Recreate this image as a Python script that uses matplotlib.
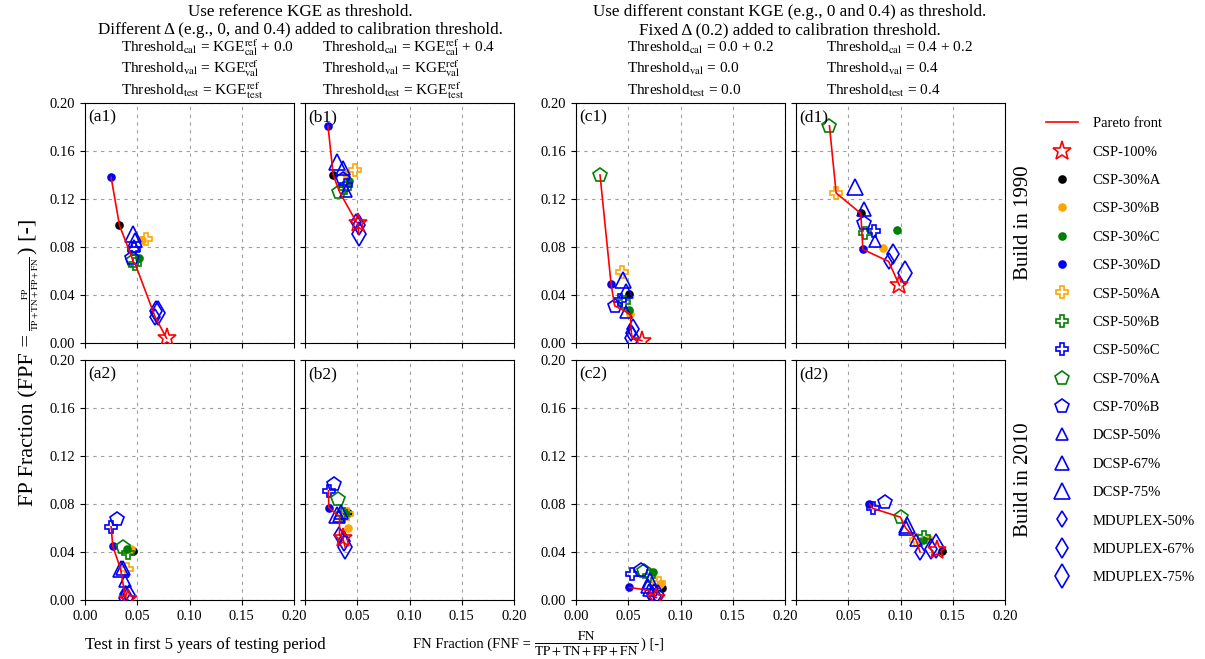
import numpy as np
import matplotlib
matplotlib.use("Agg")
import matplotlib.pyplot as plt

plt.rcParams['font.family'] = ['Liberation Serif', 'DejaVu Serif']
plt.rcParams['mathtext.fontset'] = 'stix'

# method order used by every panel array below
methods = ['CSP-100%', 'CSP-30%A', 'CSP-30%B', 'CSP-30%C', 'CSP-30%D',
           'CSP-50%A', 'CSP-50%B', 'CSP-50%C', 'CSP-70%A', 'CSP-70%B',
           'DCSP-50%', 'DCSP-67%', 'DCSP-75%',
           'MDUPLEX-50%', 'MDUPLEX-67%', 'MDUPLEX-75%']

# FN fraction (x) and FP fraction (y) per panel
a1_fnf = [0.078, 0.033, 0.055, 0.052, 0.025, 0.058, 0.048, 0.047, 0.046, 0.045, 0.047, 0.048, 0.046, 0.067, 0.068, 0.070]
a1_fpf = [0.004, 0.098, 0.086, 0.071, 0.138, 0.087, 0.066, 0.078, 0.068, 0.071, 0.081, 0.086, 0.091, 0.022, 0.027, 0.025]
b1_fnf = [0.0505, 0.027, 0.039, 0.0425, 0.022, 0.048, 0.038, 0.039, 0.033, 0.036, 0.039, 0.036, 0.031, 0.049, 0.052, 0.0515]
b1_fpf = [0.100, 0.140, 0.141, 0.135, 0.181, 0.144, 0.129, 0.132, 0.126, 0.137, 0.127, 0.146, 0.151, 0.101, 0.098, 0.091]
c1_fnf = [0.063, 0.0505, 0.052, 0.051, 0.0336, 0.044, 0.046, 0.042, 0.023, 0.037, 0.048, 0.048, 0.0447, 0.053, 0.055, 0.054]
c1_fpf = [0.002, 0.041, 0.024, 0.0275, 0.049, 0.0595, 0.034, 0.036, 0.140, 0.031, 0.026, 0.043, 0.0525, 0.008, 0.012, 0.004]
d1_fnf = [0.099, 0.062, 0.083, 0.097, 0.064, 0.0384, 0.066, 0.0744, 0.032, 0.0655, 0.0757, 0.0655, 0.056, 0.0886, 0.0925, 0.1047]
d1_fpf = [0.048, 0.108, 0.079, 0.094, 0.078, 0.125, 0.092, 0.0936, 0.181, 0.100, 0.085, 0.112, 0.130, 0.068, 0.074, 0.058]
a2_fnf = [0.041, 0.046, 0.044, 0.040, 0.0266, 0.040, 0.041, 0.025, 0.0365, 0.0308, 0.0387, 0.0365, 0.034, 0.038, 0.042, 0.039]
a2_fpf = [0.0005, 0.041, 0.0425, 0.0425, 0.0448, 0.026, 0.039, 0.061, 0.0445, 0.0675, 0.016, 0.0265, 0.026, 0.005, 0.004, 0.002]
b2_fnf = [0.036, 0.0416, 0.041, 0.039, 0.0228, 0.040, 0.036, 0.0225, 0.0314, 0.0276, 0.033, 0.034, 0.0308, 0.033, 0.037, 0.0384]
b2_fpf = [0.052, 0.0725, 0.060, 0.073, 0.077, 0.072, 0.072, 0.091, 0.084, 0.0967, 0.070, 0.073, 0.071, 0.054, 0.049, 0.044]
c2_fnf = [0.077, 0.082, 0.080, 0.0735, 0.051, 0.079, 0.070, 0.0537, 0.065, 0.0623, 0.070, 0.069, 0.0705, 0.073, 0.078, 0.075]
c2_fpf = [0.002, 0.010, 0.013, 0.023, 0.0105, 0.014, 0.020, 0.022, 0.024, 0.025, 0.008, 0.012, 0.016, 0.005, 0.004, 0.003]
d2_fnf = [0.135, 0.1393, 0.127, 0.122, 0.0703, 0.115, 0.1229, 0.0734, 0.100, 0.0856, 0.115, 0.105, 0.1063, 0.1187, 0.129, 0.134]
d2_fpf = [0.042, 0.041, 0.051, 0.050, 0.080, 0.050, 0.0528, 0.0764, 0.069, 0.082, 0.050, 0.060, 0.0625, 0.040, 0.0425, 0.045]

panels = {'a1': (a1_fnf, a1_fpf), 'b1': (b1_fnf, b1_fpf), 'c1': (c1_fnf, c1_fpf), 'd1': (d1_fnf, d1_fpf),
          'a2': (a2_fnf, a2_fpf), 'b2': (b2_fnf, b2_fpf), 'c2': (c2_fnf, c2_fpf), 'd2': (d2_fnf, d2_fpf)}

# marker, size, face, edge for each method
styles = [('*', 14, 'none', 'red'),
          ('o', 5, 'black', 'black'), ('o', 5, 'orange', 'orange'),
          ('o', 5, 'green', 'green'), ('o', 5, 'blue', 'blue'),
          ('P', 9, 'none', 'orange'), ('P', 9, 'none', 'green'), ('P', 9, 'none', 'blue'),
          ('p', 10, 'none', 'green'), ('p', 10, 'none', 'blue'),
          ('^', 8, 'none', 'blue'), ('^', 10, 'none', 'blue'), ('^', 12, 'none', 'blue'),
          ('d', 8, 'none', 'blue'), ('d', 10, 'none', 'blue'), ('d', 12, 'none', 'blue')]


def pareto(x, y):
    order = np.argsort(x)
    px, py, best = [], [], np.inf
    for i in order:
        if y[i] < best:
            px.append(x[i]); py.append(y[i]); best = y[i]
    return px, py


W, H = 1205, 659
fig = plt.figure(figsize=(W / 100, H / 100), dpi=100)
lefts = {'a': 85, 'b': 305, 'c': 576, 'd': 796}
tops = {'1': 103, '2': 360}
aw, ah = 209, 240

handles = []
for key, (fnf, fpf) in panels.items():
    col, row = key[0], key[1]
    ax = fig.add_axes([lefts[col] / W, 1 - (tops[row] + ah) / H, aw / W, ah / H])
    ax.set_xlim(0, 0.2)
    ax.set_ylim(0, 0.2)
    ax.set_xticks(np.arange(0, 0.201, 0.05))
    ax.set_yticks(np.arange(0, 0.201, 0.04))
    ax.grid(True, color='#a0a0a0', ls=(0, (3, 4)), lw=0.8)
    ax.set_axisbelow(True)
    ax.tick_params(labelsize=10.5)
    if row == '1':
        ax.set_xticklabels([])
    else:
        labs = ['%.2f' % v for v in np.arange(0, 0.201, 0.05)]
        if col in 'bd':
            labs[0] = ''
        ax.set_xticklabels(labs)
    if col in 'bd':
        ax.set_yticklabels([])
    else:
        ax.set_yticklabels(['%.2f' % v for v in np.arange(0, 0.201, 0.04)])

    x = np.array(fnf); y = np.array(fpf)
    for i in range(1, len(methods)):
        m, s, fc, ec = styles[i]
        h, = ax.plot(x[i], y[i], ls='none', marker=m, ms=s, mfc=fc, mec=ec, mew=1.2, label=methods[i], zorder=3)
        if key == 'a1':
            handles.append(h)
    px, py = pareto(x, y)
    hp, = ax.plot(px, py, color='red', lw=1.2, label='Pareto front', zorder=4)
    m, s, fc, ec = styles[0]
    hs, = ax.plot(x[0], y[0], ls='none', marker=m, ms=s, mfc=fc, mec=ec, mew=1.2, label=methods[0], zorder=5)
    if key == 'a1':
        handles = [hp, hs] + handles
    ax.text(0.015, 0.975, '(%s)' % key, transform=ax.transAxes, fontsize=12.5, va='top', ha='left')

fig.legend(handles=handles, labels=[h.get_label() for h in handles], loc='upper left',
           bbox_to_anchor=(1033 / W, 1 - 104 / H), frameon=False, fontsize=10.5,
           labelspacing=1.04, handlelength=2.2, handletextpad=1.0)

# column group headings
fig.text(300 / W, 1 - 12 / H, 'Use reference KGE as threshold.', ha='center', va='center', fontsize=12.3)
fig.text(300 / W, 1 - 30 / H, 'Different \u0394 (e.g., 0, and 0.4) added to calibration threshold.', ha='center', va='center', fontsize=12.3)
fig.text(790 / W, 1 - 12 / H, 'Use different constant KGE (e.g., 0 and 0.4) as threshold.', ha='center', va='center', fontsize=12.3)
fig.text(790 / W, 1 - 30 / H, 'Fixed \u0394 (0.2) added to calibration threshold.', ha='center', va='center', fontsize=12.3)

thr = {
    121: [r'Threshold$_{\rm cal}$ = KGE$^{\rm ref}_{\rm cal}$ + 0.0', r'Threshold$_{\rm val}$ = KGE$^{\rm ref}_{\rm val}$', r'Threshold$_{\rm test}$ = KGE$^{\rm ref}_{\rm test}$'],
    322: [r'Threshold$_{\rm cal}$ = KGE$^{\rm ref}_{\rm cal}$ + 0.4', r'Threshold$_{\rm val}$ = KGE$^{\rm ref}_{\rm val}$', r'Threshold$_{\rm test}$ = KGE$^{\rm ref}_{\rm test}$'],
    627: [r'Threshold$_{\rm cal}$ = 0.0 + 0.2', r'Threshold$_{\rm val}$ = 0.0', r'Threshold$_{\rm test}$ = 0.0'],
    826: [r'Threshold$_{\rm cal}$ = 0.4 + 0.2', r'Threshold$_{\rm val}$ = 0.4', r'Threshold$_{\rm test}$ = 0.4'],
}
for xp, lines in thr.items():
    for yp, s in zip([48, 69, 91], lines):
        fig.text(xp / W, 1 - yp / H, s, ha='left', va='center', fontsize=11)

fig.text(1023 / W, 1 - 223 / H, 'Build in 1990', rotation=90, ha='center', va='center', fontsize=15)
fig.text(1023 / W, 1 - 480 / H, 'Build in 2010', rotation=90, ha='center', va='center', fontsize=15)

renderer = fig.canvas.get_renderer()
frac = r'$\frac{\rm %s}{\rm TP + TN + FP + FN}$'

# y label: large text with a small fraction, chained bottom to top
ypos = H - 506
for s, fs in [('FP Fraction (FPF =', 16), (frac % 'FP', 9.5), (') [-]', 16)]:
    t = fig.text(33 / W, ypos / H, s, rotation=90, rotation_mode='anchor',
                 ha='left', va='baseline', fontsize=fs)
    ypos = t.get_window_extent(renderer).y1 + 3

# x label: chained left to right
xpos = 413
for s, fs in [('FN Fraction (FNF =', 10.5), (frac % 'FN', 13.5), (') [-]', 10.5)]:
    t = fig.text(xpos / W, 1 - 648 / H, s, ha='left', va='baseline', fontsize=fs)
    xpos = t.get_window_extent(renderer).x1 + 3

fig.text(205 / W, 1 - 645 / H, 'Test in first 5 years of testing period', ha='center', va='center', fontsize=12)

fig.savefig('out.png', dpi=100)
